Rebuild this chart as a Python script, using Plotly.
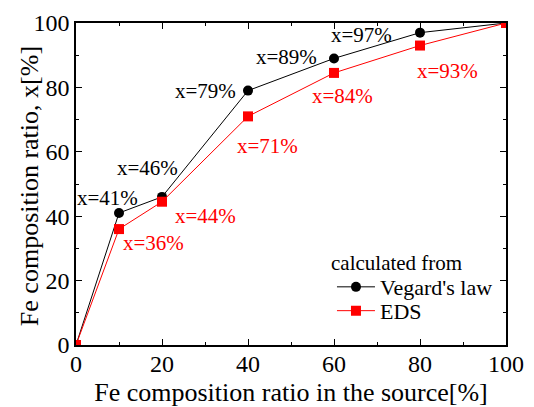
import plotly.graph_objects as go

source = [0, 10, 20, 40, 60, 80, 100]
vegard = [0, 41, 46, 79, 89, 97, 100]
eds = [0, 36, 44.5, 71, 84.5, 93, 100]
vegard_labels = [None, 41, 46, 79, 89, 97, None]
eds_labels = [None, 36, 44, 71, 84, 93, None]

FONT = "Liberation Serif, DejaVu Serif, serif"

fig = go.Figure()
fig.add_trace(go.Scatter(x=source, y=vegard, mode="lines+markers", name="Vegard's law",
                         line=dict(color="black", width=1),
                         marker=dict(symbol="circle", size=10, color="black"),
                         legend="legend"))
fig.add_trace(go.Scatter(x=source, y=eds, mode="lines+markers", name="EDS",
                         line=dict(color="#ff0000", width=1),
                         marker=dict(symbol="square", size=10, color="#ff0000"),
                         legend="legend2"))

v_off = [None, (-12, 15), (-15, 29), (-43, 0), (-48, 1), (-59, -2), None]
e_off = [None, (34, -14), (43, -14), (19, -30), (8, -23), (27, -25), None]

for xs, ys, labs, offs, col in [(source, vegard, vegard_labels, v_off, "black"),
                                (source, eds, eds_labels, e_off, "#ff0000")]:
    for xv, yv, lab, off in zip(xs, ys, labs, offs):
        if lab is None:
            continue
        fig.add_annotation(x=xv, y=yv, xref="x", yref="y", text=f"x={lab}%",
                           showarrow=False, xshift=off[0], yshift=off[1],
                           font=dict(family=FONT, size=21, color=col))

# legend heading
fig.add_annotation(x=0.588, y=0.256, xref="paper", yref="paper",
                   xanchor="left", yanchor="middle", showarrow=False,
                   text="calculated from", font=dict(family=FONT, size=21, color="black"))

# y-axis title (placed close to the tick labels, as in the original)
fig.add_annotation(x=-0.108, y=0.492, xref="paper", yref="paper",
                   xanchor="center", yanchor="middle", showarrow=False, textangle=-90,
                   text="Fe composition ratio, x[%]",
                   font=dict(family=FONT, size=26, color="black"))

axis_common = dict(range=[0, 100], dtick=20, tick0=0, ticks="inside", ticklen=6,
                   tickcolor="black", tickwidth=1, showline=True, linecolor="black",
                   linewidth=1.5, mirror="ticks", showgrid=False, zeroline=False,
                   automargin=False,
                   tickfont=dict(family=FONT, size=24, color="black"),
                   minor=dict(dtick=10, ticks="inside", ticklen=3, tickcolor="black", showgrid=False))

fig.update_xaxes(**axis_common, ticklabelstandoff=-4,
                 title=dict(text="Fe composition ratio in the source[%]",
                            font=dict(family=FONT, size=26, color="black")))
fig.update_yaxes(**axis_common)

leg_common = dict(xanchor="left", yanchor="middle", bgcolor="rgba(0,0,0,0)",
                  font=dict(family=FONT, size=22, color="black"), itemwidth=38)

fig.update_layout(
    width=534, height=407,
    margin=dict(l=76, r=28, t=23, b=62),
    plot_bgcolor="white", paper_bgcolor="white",
    font=dict(family=FONT),
    showlegend=True,
    legend=dict(x=0.5953, y=0.180, **leg_common),
    legend2=dict(x=0.5953, y=0.106, **leg_common),
)

fig.write_html("out.html", config={"displayModeBar": False},
               post_script="document.body.style.margin='0px';")
